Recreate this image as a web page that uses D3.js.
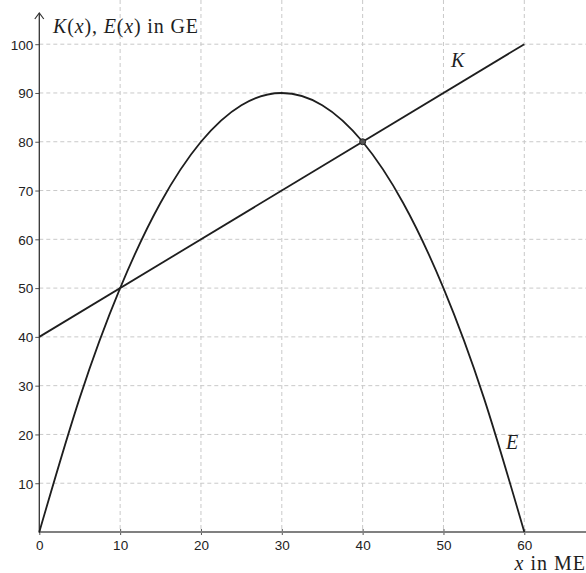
<!DOCTYPE html>
<html>
<head>
<meta charset="utf-8">
<script src="https://cdn.jsdelivr.net/npm/d3@7"></script>
<style>
html,body{margin:0;padding:0;background:#fff;}
svg{display:block;}
</style>
</head>
<body>
<svg id="chart" width="586" height="573"></svg>
<script>
// Data
const xTicks = [0, 10, 20, 30, 40, 50, 60];
const yTicks = [10, 20, 30, 40, 50, 60, 70, 80, 90, 100];
const eX = [0, 5, 10, 15, 20, 25, 30, 35, 40, 45, 50, 55, 60];
const eY = [0, 27.5, 50, 67.5, 80, 87.5, 90, 87.5, 80, 67.5, 50, 27.5, 0];
const kX = [0, 60];
const kY = [40, 100];
const markedPoint = [40, 80];

const svg = d3.select("#chart");
const W = 586, H = 573;
const x = d3.scaleLinear().domain([0, 60]).range([39.3, 524.3]);
const y = d3.scaleLinear().domain([0, 100]).range([532, 44.2]);

const gridColor = "#c9c9c9";
// vertical grid
svg.append("g").selectAll("line").data(xTicks.filter(d => d > 0)).join("line")
  .attr("x1", d => x(d)).attr("x2", d => x(d))
  .attr("y1", 0).attr("y2", y(0))
  .attr("stroke", gridColor).attr("stroke-width", 1).attr("stroke-dasharray", "4,3");
// horizontal grid
svg.append("g").selectAll("line").data(yTicks).join("line")
  .attr("x1", x(0)).attr("x2", W)
  .attr("y1", d => y(d)).attr("y2", d => y(d))
  .attr("stroke", gridColor).attr("stroke-width", 1).attr("stroke-dasharray", "4,3");

// x axis
const xAxis = d3.axisBottom(x).tickValues(xTicks).tickSize(3).tickSizeOuter(0).tickFormat(d3.format("d"));
const gx = svg.append("g").attr("transform", `translate(0,${y(0)})`).call(xAxis);
gx.select(".domain").remove();
gx.append("line").attr("x1", x(0)).attr("x2", W).attr("y1", 0).attr("y2", 0)
  .attr("stroke", "#808080").attr("stroke-width", 2);
gx.selectAll(".tick line").attr("stroke", "#555").attr("y1", -3).attr("y2", 3);
gx.selectAll(".tick text").attr("font-family", "Liberation Sans, Arial, sans-serif")
  .attr("font-size", 13.5).attr("fill", "#222").attr("dy", 0).attr("y", 18);

// y axis
const yAxis = d3.axisLeft(y).tickValues(yTicks).tickSize(4).tickSizeOuter(0).tickFormat(d3.format("d"));
const gy = svg.append("g").attr("transform", `translate(${x(0)},0)`).call(yAxis);
gy.select(".domain").remove();
gy.append("line").attr("x1", 0).attr("x2", 0).attr("y1", y(0) + 1).attr("y2", 13)
  .attr("stroke", "#333").attr("stroke-width", 1.3);
gy.append("path").attr("d", "M-4.5,19 L0,13 L4.5,19").attr("fill", "none")
  .attr("stroke", "#333").attr("stroke-width", 1.2);
gy.selectAll(".tick line").attr("stroke", "#555");
gy.selectAll(".tick text").attr("font-family", "Liberation Sans, Arial, sans-serif")
  .attr("font-size", 13.5).attr("fill", "#222").attr("x", -6).attr("dy", "0.36em");

// K line
const kData = kX.map((d, i) => [d, kY[i]]);
svg.append("path").datum(kData)
  .attr("d", d3.line().x(d => x(d[0])).y(d => y(d[1])))
  .attr("fill", "none").attr("stroke", "#1e1e1e").attr("stroke-width", 1.8);

// E curve
const eData = eX.map((d, i) => [d, eY[i]]);
svg.append("path").datum(eData)
  .attr("d", d3.line().x(d => x(d[0])).y(d => y(d[1])).curve(d3.curveNatural))
  .attr("fill", "none").attr("stroke", "#1e1e1e").attr("stroke-width", 1.8);

// intersection point
svg.append("circle").attr("cx", x(markedPoint[0])).attr("cy", y(markedPoint[1])).attr("r", 3)
  .attr("fill", "#555").attr("stroke", "#222").attr("stroke-width", 1);

// labels
const serif = "Liberation Serif, Times New Roman, serif";
const t1 = svg.append("text").attr("x", 53).attr("y", 33)
  .attr("font-family", serif).attr("font-size", 20).attr("letter-spacing", 0.85).attr("fill", "#1e1e1e");
t1.append("tspan").attr("font-style", "italic").text("K");
t1.append("tspan").text("(");
t1.append("tspan").attr("font-style", "italic").text("x");
t1.append("tspan").text("), ");
t1.append("tspan").attr("font-style", "italic").text("E");
t1.append("tspan").text("(");
t1.append("tspan").attr("font-style", "italic").text("x");
t1.append("tspan").text(") in GE");

const t2 = svg.append("text").attr("x", 586).attr("y", 570).attr("text-anchor", "end")
  .attr("font-family", serif).attr("font-size", 20).attr("letter-spacing", 1).attr("fill", "#1e1e1e");
t2.append("tspan").attr("font-style", "italic").text("x");
t2.append("tspan").text(" in ME");

svg.append("text").attr("x", 451).attr("y", 67).attr("font-family", serif)
  .attr("font-style", "italic").attr("font-size", 20).attr("fill", "#1e1e1e").text("K");
svg.append("text").attr("x", 506).attr("y", 449).attr("font-family", serif)
  .attr("font-style", "italic").attr("font-size", 20).attr("fill", "#1e1e1e").text("E");
</script>
</body>
</html>
